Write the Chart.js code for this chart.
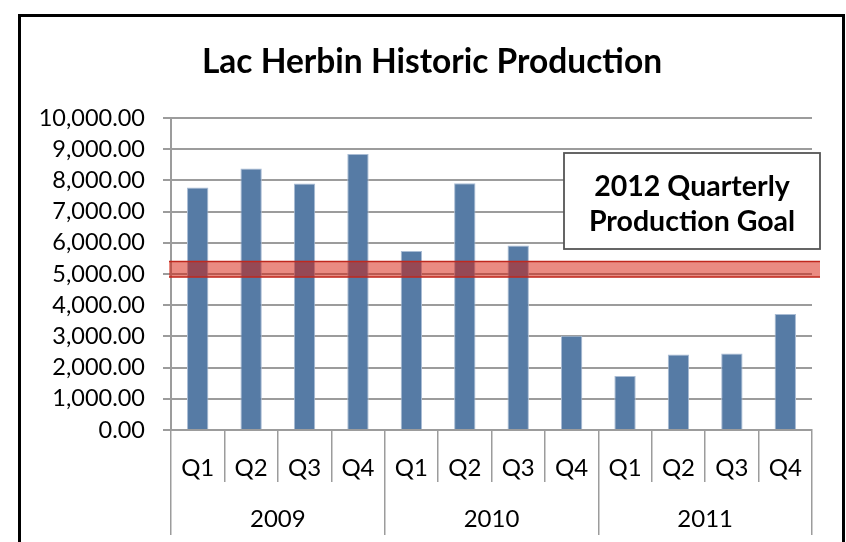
<!DOCTYPE html>
<html><head><meta charset="utf-8">
<script src="https://cdn.jsdelivr.net/npm/chart.js@4.4.1/dist/chart.umd.min.js"></script>
<style>
html,body{margin:0;padding:0;background:#fff;overflow:hidden}
#wrap{position:relative;width:846px;height:542px}
#frame{position:absolute;left:18px;top:14px;width:821px;height:600px;border:3px solid #000;pointer-events:none}
canvas{position:absolute;left:0;top:0}
</style></head><body>
<div id="wrap"><canvas id="c" width="846" height="542"></canvas><div id="frame"></div></div>
<script>
const chartTitle = 'Lac Herbin Historic Production';
const quarters = ['Q1','Q2','Q3','Q4','Q1','Q2','Q3','Q4','Q1','Q2','Q3','Q4'];
const years = ['2009','2010','2011'];
const production = [7770, 8380, 7900, 8850, 5740, 7910, 5910, 3020, 1730, 2420, 2450, 3720];
const goalBand = [4900, 5400];
const goalLabel = ['2012 Quarterly', 'Production Goal'];
const yMin = 0, yMax = 10000, yStep = 1000;

const F = 'Lato';
const GRID = '#9c9c9c';

const titlePlugin = {
  id: 'frameTitle',
  afterDraw(chart) {
    const ctx = chart.ctx;
    ctx.save();
    ctx.fillStyle = '#000';
    ctx.font = 'bold 33.5px ' + F;
    ctx.textAlign = 'center';
    ctx.textBaseline = 'alphabetic';
    ctx.fillText(chartTitle, 432, 72.5);
    ctx.restore();
  }
};

const bandPlugin = {
  id: 'band',
  afterDatasetsDraw(chart) {
    const y = chart.scales.y, ca = chart.chartArea, ctx = chart.ctx;
    const top = y.getPixelForValue(goalBand[1]);
    const bot = y.getPixelForValue(goalBand[0]);
    const l = ca.left - 2, r = ca.right + 8;
    ctx.save();
    ctx.fillStyle = 'rgba(214,24,6,0.5)';
    ctx.fillRect(l, top, r - l, bot - top);
    ctx.strokeStyle = '#C0281E';
    ctx.lineWidth = 1.5;
    ctx.beginPath();
    ctx.moveTo(l, top); ctx.lineTo(r, top);
    ctx.moveTo(l, bot); ctx.lineTo(r, bot);
    ctx.stroke();
    ctx.restore();
  }
};

const boxPlugin = {
  id: 'goalbox',
  afterDraw(chart) {
    const ca = chart.chartArea, ctx = chart.ctx;
    const l = ca.left + 393, r = ca.right + 8, t = ca.top + 35, b = ca.top + 131;
    ctx.save();
    ctx.fillStyle = '#fff';
    ctx.fillRect(l, t, r - l, b - t);
    ctx.strokeStyle = '#555';
    ctx.lineWidth = 1.8;
    ctx.strokeRect(l, t, r - l, b - t);
    ctx.fillStyle = '#000';
    ctx.font = 'bold 28.5px ' + F;
    ctx.textAlign = 'center';
    ctx.textBaseline = 'middle';
    const cx = (l + r) / 2;
    ctx.fillText(goalLabel[0], cx, t + 34);
    ctx.fillText(goalLabel[1], cx, t + 69);
    ctx.restore();
  }
};

new Chart(document.getElementById('c').getContext('2d'), {
  type: 'bar',
  data: {
    labels: quarters,
    datasets: [{
      data: production,
      backgroundColor: '#567BA5',
      borderColor: '#A9BCD4',
      borderWidth: 1,
      barPercentage: 0.4,
      categoryPercentage: 1
    }]
  },
  options: {
    responsive: false,
    animation: false,
    layout: { padding: { top: 118, left: 20, right: 34, bottom: 0 } },
    plugins: {
      legend: { display: false },
      tooltip: { enabled: false },
      title: { display: false }
    },
    scales: {
      x: {
        position: 'bottom', weight: 0, offset: true,
        grid: { offset: true, drawOnChartArea: false, drawTicks: true, tickLength: 52, color: GRID, lineWidth: 1.5 },
        border: { color: GRID, width: 2 },
        ticks: { color: '#000', font: { family: F, size: 24 }, padding: -28, maxRotation: 0, autoSkip: false },
        afterFit(s) { s.height = 52; }
      },
      x2: {
        type: 'category', labels: years, position: 'bottom', weight: 1, offset: true,
        grid: { offset: true, drawOnChartArea: false, drawTicks: true, tickLength: 53, color: GRID, lineWidth: 1.5 },
        border: { display: false },
        ticks: { color: '#000', font: { family: F, size: 24 }, padding: -30, maxRotation: 0, autoSkip: false },
        afterFit(s) { s.height = 60; }
      },
      y: {
        min: yMin, max: yMax,
        ticks: {
          stepSize: yStep, color: '#000', font: { family: F, size: 23.5 }, padding: 18,
          callback: v => v.toLocaleString('en-US', { minimumFractionDigits: 2, maximumFractionDigits: 2 })
        },
        grid: { color: GRID, lineWidth: 2, tickLength: 8 },
        border: { color: GRID, width: 2 },
        afterFit(s) { s.width = 151; }
      }
    }
  },
  plugins: [bandPlugin, boxPlugin, titlePlugin]
});
</script>
</body></html>
